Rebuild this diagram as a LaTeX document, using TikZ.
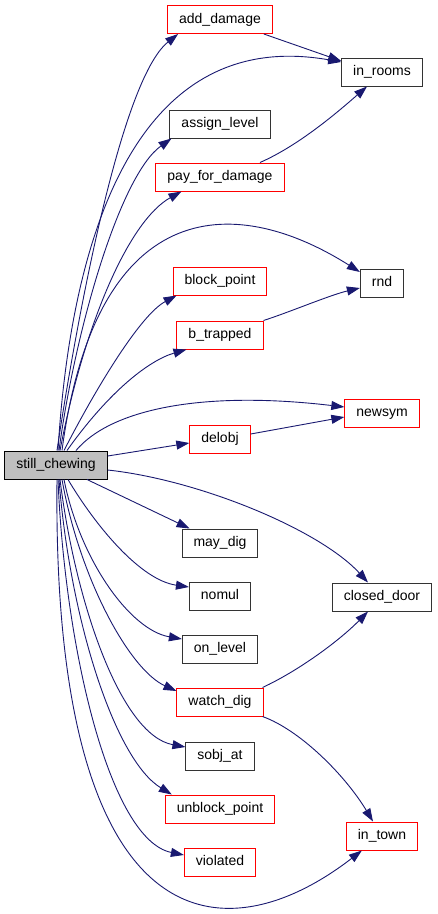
\documentclass[tikz,border=0pt]{standalone}
\usepackage{fontspec}
\setmainfont{Liberation Sans}
\usepackage{xcolor}
\definecolor{edgeblue}{RGB}{25,25,112}
\definecolor{rootfill}{RGB}{191,191,191}
\usetikzlibrary{arrows.meta}

\begin{document}
\begin{tikzpicture}[x=1pt,y=-1pt,
fn/.style={draw=black!80,line width=1pt,minimum height=28pt,inner xsep=11.5pt,inner ysep=0pt,text height=10pt,text depth=3pt,font=\fontsize{14}{16}\selectfont},
fnred/.style={fn,draw=red},
root/.style={fn,draw=black,fill=rootfill},
call/.style={-{Triangle[length=13pt,width=9pt]},draw=edgeblue,line width=0.9pt}]
\useasboundingbox (0,0) rectangle (437,914);
\node[root] (sc) at (56,465) {still\_chewing};
\node[fnred] (ad) at (220,19.5) {add\_damage};
\node[fn] (ir) at (382,72) {in\_rooms};
\node[fn] (al) at (220,124) {assign\_level};
\node[fnred] (pfd) at (220,177) {pay\_for\_damage};
\node[fnred] (bp) at (220,281) {block\_point};
\node[fn] (rnd) at (382,283) {rnd};
\node[fnred] (bt) at (220,335) {b\_trapped};
\node[fnred] (ns) at (382,413) {newsym};
\node[fnred] (dob) at (220,439) {delobj};
\node[fn] (md) at (220,543) {may\_dig};
\node[fn] (nm) at (220,596) {nomul};
\node[fn] (cd) at (382,597) {closed\_door};
\node[fn] (ol) at (220,649) {on\_level};
\node[fnred] (wd) at (220,702) {watch\_dig};
\node[fn] (so) at (220,756) {sobj\_at};
\node[fnred] (ubp) at (220,809) {unblock\_point};
\node[fnred] (it) at (382,836) {in\_town};
\node[fnred] (vi) at (220,862) {violated};
% calls out of still_chewing, upper fan
\draw[call] ([xshift=1pt]sc.north) .. controls (75,330) and (120,80) .. ([xshift=11pt]ad.south west);
\draw[call] ([xshift=2pt]sc.north) .. controls (70,250) and (130,25) .. ([yshift=10pt]ir.west);
\draw[call] ([xshift=3pt]sc.north) .. controls (75,330) and (120,175) .. ([xshift=2pt]al.south west);
\draw[call] ([xshift=4pt]sc.north) .. controls (85,320) and (130,220) .. ([xshift=26pt]pfd.south west);
\draw[call] ([xshift=6pt]sc.north) .. controls (95,200) and (230,190) .. ([yshift=11pt]rnd.west);
\draw[call] ([xshift=8pt]sc.north) .. controls (95,390) and (140,315) .. ([xshift=4pt]bp.south west);
\draw[call] ([xshift=11pt]sc.north) .. controls (110,390) and (150,360) .. ([xshift=10pt]bt.south west);
\draw[call] ([xshift=20pt]sc.north) .. controls (110,410) and (200,390) .. ([yshift=6pt]ns.west);
\draw[call] ([yshift=9pt]sc.east) -- ([yshift=-4pt]dob.west);
\draw[call] ([yshift=-5pt]sc.east) .. controls (200,480) and (320,530) .. ([xshift=-14pt]cd.north);
% lower fan
\draw[call] ([xshift=31pt]sc.south) -- ([xshift=8pt]md.north west);
\draw[call] ([xshift=12pt]sc.south) .. controls (95,525) and (140,580) .. ([yshift=9pt]nm.west);
\draw[call] ([xshift=8pt]sc.south) .. controls (80,560) and (130,630) .. ([yshift=10pt]ol.west);
\draw[call] ([xshift=6pt]sc.south) .. controls (80,580) and (130,670) .. ([yshift=11pt]wd.west);
\draw[call] ([xshift=4pt]sc.south) .. controls (75,600) and (120,735) .. ([yshift=9pt]so.west);
\draw[call] ([xshift=3pt]sc.south) .. controls (70,620) and (115,760) .. ([xshift=7pt]ubp.north west);
\draw[call] ([xshift=2pt]sc.south) .. controls (65,650) and (110,840) .. ([yshift=7pt]vi.west);
\draw[call] ([xshift=1pt]sc.south) .. controls (52,940) and (220,960) .. ([xshift=16pt]it.south west);
% second level
\draw[call] ([xshift=-9pt]ad.south east) -- ([yshift=11pt]ir.west);
\draw[call] ([xshift=40pt]pfd.north) .. controls (300,145) and (340,110) .. ([xshift=-15pt]ir.south);
\draw[call] (bt.north east) .. controls (290,312) and (330,295) .. ([yshift=-5pt]rnd.west);
\draw[call] ([yshift=5pt]dob.east) -- ([yshift=-4pt]ns.west);
\draw[call] ([xshift=-1pt]wd.north east) .. controls (300,670) and (340,640) .. ([xshift=-14pt]cd.south);
\draw[call] ([xshift=-1pt]wd.south east) .. controls (300,730) and (345,775) .. ([xshift=-9pt]it.north);
\end{tikzpicture}
\end{document}
